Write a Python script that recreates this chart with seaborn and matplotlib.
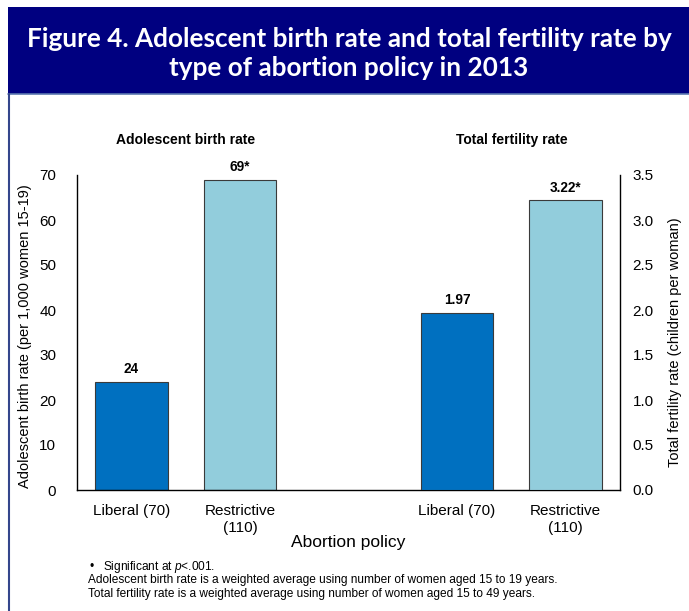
import numpy as np
import pandas as pd
import matplotlib
matplotlib.use("Agg")
import matplotlib.pyplot as plt
import seaborn as sns
from matplotlib.patches import Rectangle
from matplotlib.lines import Line2D

# ---- data -------------------------------------------------------------
policies = ["Liberal (70)", "Restrictive\n(110)"]
adolescent_birth_rate = [24, 69]
abr_labels = ["24", "69*"]
total_fertility_rate = [1.97, 3.22]
tfr_labels = ["1.97", "3.22*"]
abr_ticks = [0, 10, 20, 30, 40, 50, 60, 70]
tfr_ticks = [0.0, 0.5, 1.0, 1.5, 2.0, 2.5, 3.0, 3.5]

colors = ["#0070C0", "#92CDDC"]

sns.set_theme(style="white")
plt.rcParams["font.family"] = ["Liberation Sans", "DejaVu Sans"]
plt.rcParams["text.color"] = "black"
plt.rcParams["axes.labelcolor"] = "black"
plt.rcParams["xtick.color"] = "black"
plt.rcParams["ytick.color"] = "black"
plt.rcParams["mathtext.fontset"] = "custom"
plt.rcParams["mathtext.rm"] = "Liberation Sans"
plt.rcParams["mathtext.it"] = "Liberation Sans:italic"

W, H = 689, 611
fig = plt.figure(figsize=(W / 100, H / 100), dpi=100)
fig.patch.set_facecolor("white")

def fx(px):
    return px / W

def fy(py):
    return 1 - py / H

# ---- title banner -----------------------------------------------------
fig.patches.append(Rectangle((fx(8), fy(94)), 1 - fx(8), fy(7) - fy(94),
                             transform=fig.transFigure, facecolor="#000080",
                             edgecolor="none", zorder=0))
fig.lines.append(Line2D([fx(8), 1], [fy(94), fy(94)], transform=fig.transFigure,
                        color="#5b78b0", lw=1.2))
fig.lines.append(Line2D([fx(9), fx(9)], [fy(94), 0], transform=fig.transFigure,
                        color="#34468c", lw=1.5))
title_font = dict(family=["Lato", "DejaVu Sans"], weight="bold", color="white",
                  fontsize=18.8, ha="center", va="baseline")
fig.text(fx(349), fy(47), "Figure 4. Adolescent birth rate and total fertility rate by", **title_font)
fig.text(fx(349), fy(76), "type of abortion policy in 2013", **title_font)

# ---- axes -------------------------------------------------------------
ax = fig.add_axes([fx(77), fy(490), fx(620) - fx(77), fy(175) - fy(490)])
ax2 = ax.twinx()

abr_pos = [0, 1]
tfr_pos = [3, 4]
df_abr = pd.DataFrame({"pos": abr_pos, "value": adolescent_birth_rate, "policy": policies})
df_tfr = pd.DataFrame({"pos": tfr_pos, "value": total_fertility_rate, "policy": policies})

bar_kw = dict(x="pos", y="value", hue="policy", hue_order=policies, palette=colors,
              native_scale=True, width=0.67, legend=False, edgecolor="#3a3a3a",
              linewidth=0.8, errorbar=None, saturation=1)
sns.barplot(data=df_abr, ax=ax, **bar_kw)
sns.barplot(data=df_tfr, ax=ax2, **bar_kw)

for p, v, lab in zip(abr_pos, adolescent_birth_rate, abr_labels):
    ax.annotate(lab, (p, v), xytext=(0, 4), textcoords="offset points",
                ha="center", va="bottom", fontsize=9.8, fontweight="bold")
for p, v, lab in zip(tfr_pos, total_fertility_rate, tfr_labels):
    ax2.annotate(lab, (p, v), xytext=(0, 4), textcoords="offset points",
                 ha="center", va="bottom", fontsize=9.8, fontweight="bold")

ax.set_xlim(-0.5, 4.5)
ax.set_ylim(0, 70)
ax2.set_ylim(0, 3.5)
ax.set_yticks(abr_ticks)
ax.set_yticklabels([str(t) for t in abr_ticks])
ax2.set_yticks(tfr_ticks)
ax2.set_yticklabels([f"{t:.1f}" for t in tfr_ticks])
ax.set_xticks(abr_pos + tfr_pos)
ax.set_xticklabels(policies + policies, linespacing=1.25)

ax.tick_params(axis="y", length=0, pad=15, labelsize=11)
ax2.tick_params(axis="y", length=0, pad=9, labelsize=11)
ax.tick_params(axis="x", length=0, pad=10, labelsize=11)
ax2.tick_params(axis="x", length=0)

for a in (ax, ax2):
    a.spines["top"].set_visible(False)
    for s in ("left", "right", "bottom"):
        a.spines[s].set_color("black")
        a.spines[s].set_linewidth(1.0)
    a.grid(False)
    a.set_facecolor("none")
ax.spines["right"].set_visible(False)
ax2.spines["left"].set_visible(False)
ax2.spines["bottom"].set_visible(False)

ax.set_ylabel("Adolescent birth rate (per 1,000 women 15-19)", fontsize=10.5)
ax.yaxis.set_label_coords(-0.083, 0.49)
ax2.set_ylabel("Total fertility rate (children per woman)", fontsize=10.5, rotation=90)
ax2.yaxis.set_label_coords(1.088, 0.47)
ax2.set_xlabel("")
ax.set_xlabel("Abortion policy", fontsize=12.5)
ax.xaxis.set_label_coords(0.5, -0.143)

# group headings
ax.text(0.5, 1.11, "Adolescent birth rate", transform=ax.get_xaxis_transform(),
        ha="center", va="center", fontsize=10, fontweight="bold")
ax.text(3.5, 1.11, "Total fertility rate", transform=ax.get_xaxis_transform(),
        ha="center", va="center", fontsize=10, fontweight="bold")

# ---- notes ------------------------------------------------------------
note_kw = dict(fontsize=8.6, color="black", ha="left", va="center")
fig.text(fx(90), fy(567), "\u2022", **note_kw)
fig.text(fx(103), fy(567), r"Significant at $\mathit{p}$<.001.", **note_kw)
fig.text(fx(88), fy(580), "Adolescent birth rate is a weighted average using number of women aged 15 to 19 years.", **note_kw)
fig.text(fx(88), fy(594), "Total fertility rate is a weighted average using number of women aged 15 to 49 years.", **note_kw)

fig.savefig("out.png", dpi=100, facecolor="white")
